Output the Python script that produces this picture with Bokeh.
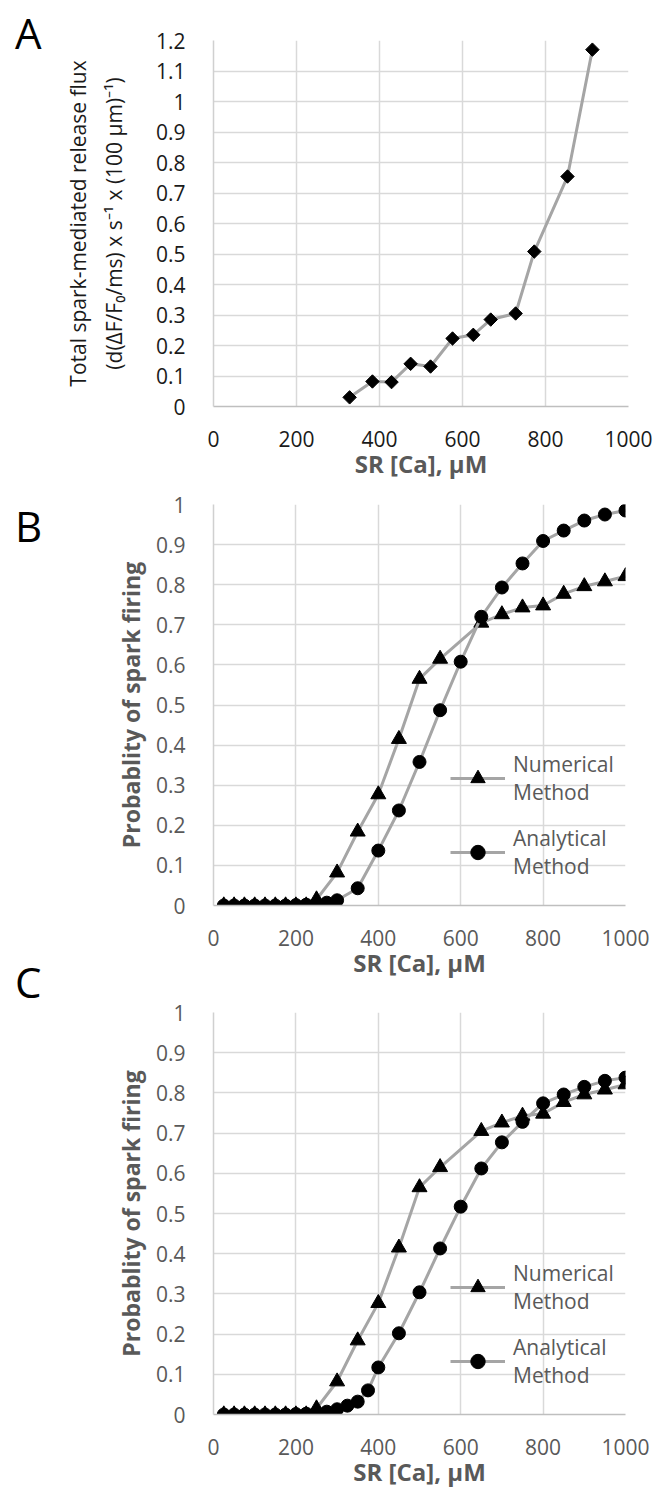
import math
from bokeh.plotting import figure
from bokeh.models import Range1d, FixedTicker, CustomJSTickFormatter, Legend, LegendItem, Div
from bokeh.layouts import column, row
from bokeh.embed import file_html
from bokeh.resources import INLINE

# ---------------- data ----------------
# Panel A: total spark-mediated release flux vs SR [Ca]
a_sr = [328, 383, 429, 475, 523, 576, 626, 668, 728, 773, 853, 913]
a_flux = [0.030, 0.082, 0.080, 0.140, 0.131, 0.223, 0.235, 0.285, 0.305, 0.508, 0.754, 1.170]

# Panels B and C: numerical method (same in both)
num_sr = [25, 50, 75, 100, 125, 150, 175, 200, 225, 250, 300, 350, 400, 450, 500, 550,
          650, 700, 750, 800, 850, 900, 950, 1000]
num_p = [0, 0, 0, 0, 0, 0, 0, 0, 0, 0.015, 0.082, 0.184, 0.277, 0.415, 0.565, 0.615,
         0.705, 0.726, 0.743, 0.748, 0.777, 0.796, 0.808, 0.821]

# Panel B: analytical method
ana_b_sr = [25, 50, 75, 100, 125, 150, 175, 200, 225, 250, 275, 300,
            350, 400, 450, 500, 550, 600, 650, 700, 750, 800, 850, 900, 950, 1000]
ana_b_p = [0, 0, 0, 0, 0, 0, 0, 0.001, 0.002, 0.004, 0.007, 0.013,
           0.043, 0.137, 0.237, 0.358, 0.487, 0.608, 0.720, 0.793, 0.853, 0.909, 0.935, 0.960, 0.975, 0.985]

# Panel C: analytical method
ana_c_sr = [25, 50, 75, 100, 125, 150, 175, 200, 225, 250, 275, 300, 325, 350, 375, 400,
            450, 500, 550, 600, 650, 700, 750, 800, 850, 900, 950, 1000]
ana_c_p = [0, 0, 0, 0, 0, 0, 0, 0.001, 0.002, 0.004, 0.007, 0.013, 0.022, 0.032, 0.060, 0.117,
           0.202, 0.304, 0.413, 0.517, 0.612, 0.677, 0.728, 0.774, 0.796, 0.815, 0.830, 0.838]

x_ticks = [0, 200, 400, 600, 800, 1000]
a_y_ticks = [0, 0.1, 0.2, 0.3, 0.4, 0.5, 0.6, 0.7, 0.8, 0.9, 1.0, 1.1, 1.2]
p_y_ticks = [0, 0.1, 0.2, 0.3, 0.4, 0.5, 0.6, 0.7, 0.8, 0.9, 1.0]

panel_letters = ["A", "B", "C"]
x_title = "SR [Ca], µM"
a_y_title = "Total spark-mediated release flux\n(d(ΔF/F₀/ms) x s⁻¹ x (100 µm)⁻¹)"
p_y_title = "Probablity of spark firing"
num_label = "Numerical\nMethod"
ana_label = "Analytical\nMethod"

FONT = "Open Sans"
GREY_TXT = "#595959"
GRID = "#d9d9d9"
LINE = "#a5a5a5"
LEFT_COL = 45
fmt = CustomJSTickFormatter(code="return Number(tick.toFixed(2)).toString();")


def base_fig(fw, fh, top, bottom, right, ymax, yticks, tick_color):
    p = figure(frame_width=fw, frame_height=fh, min_border_left=213 - LEFT_COL,
               min_border_right=right, min_border_top=top, min_border_bottom=bottom,
               x_range=Range1d(0, 1000), y_range=Range1d(0, ymax),
               output_backend="svg", toolbar_location=None)
    p.outline_line_color = None
    p.background_fill_color = "white"
    p.border_fill_color = "white"
    for ax, ticks in ((p.xaxis, x_ticks), (p.yaxis, yticks)):
        ax.ticker = FixedTicker(ticks=ticks)
        ax.formatter = fmt
        ax.major_tick_line_color = None
        ax.minor_tick_line_color = None
        ax.major_label_text_font = FONT
        ax.major_label_text_font_size = "21px"
        ax.major_label_text_color = tick_color
    p.xaxis.axis_line_color = "#bfbfbf"
    p.xaxis.axis_line_width = 1.5
    p.yaxis.axis_line_color = "#d0d0d0"
    p.yaxis.axis_line_width = 1.5
    p.xaxis.major_label_standoff = 18
    p.yaxis.major_label_standoff = 22
    p.xgrid.ticker = FixedTicker(ticks=x_ticks)
    p.ygrid.ticker = FixedTicker(ticks=yticks)
    p.grid.grid_line_color = GRID
    p.grid.grid_line_width = 1.5
    p.xaxis.axis_label = x_title
    p.xaxis.axis_label_text_font = FONT
    p.xaxis.axis_label_text_font_size = "24px"
    p.xaxis.axis_label_text_font_style = "bold"
    p.xaxis.axis_label_text_color = GREY_TXT
    p.xaxis.axis_label_standoff = -3
    return p


# ---------------- Panel A ----------------
pa = base_fig(415, 366, 40, 84, 25, 1.2, a_y_ticks, "#1a1a1a")
pa.yaxis.axis_label = a_y_title
pa.yaxis.axis_label_text_font = FONT
pa.yaxis.axis_label_text_font_size = "21px"
pa.yaxis.axis_label_text_font_style = "normal"
pa.yaxis.axis_label_text_color = "#1a1a1a"
pa.yaxis.axis_label_text_line_height = 1.3
pa.yaxis.axis_label_standoff = 25
pa.line(a_sr, a_flux, line_color=LINE, line_width=3)
pa.scatter(a_sr, a_flux, marker="square", angle=math.pi / 4, size=9.5,
           fill_color="black", line_color="black")


def prob_panel(fw, fh, top, bottom, right, ana_x, ana_y):
    p = base_fig(fw, fh, top, bottom, right, 1.0, p_y_ticks, GREY_TXT)
    p.yaxis.axis_label = p_y_title
    p.yaxis.axis_label_text_font = FONT
    p.yaxis.axis_label_text_font_size = "23px"
    p.yaxis.axis_label_text_font_style = "bold"
    p.yaxis.axis_label_text_color = GREY_TXT
    p.yaxis.axis_label_standoff = 6
    l1 = p.line(num_sr, num_p, line_color=LINE, line_width=3)
    s1 = p.scatter(num_sr, num_p, marker="triangle", size=15, fill_color="black", line_color="black")
    l2 = p.line(ana_x, ana_y, line_color=LINE, line_width=3)
    s2 = p.scatter(ana_x, ana_y, marker="circle", size=13, fill_color="black", line_color="black")
    leg = Legend(items=[LegendItem(label=num_label, renderers=[l1, s1]),
                        LegendItem(label=ana_label, renderers=[l2, s2])],
                 location=(237, 25), orientation="vertical")
    leg.background_fill_alpha = 0
    leg.border_line_alpha = 0
    leg.padding = 0
    leg.margin = 0
    leg.spacing = 18
    leg.glyph_width = 55
    leg.glyph_height = 36
    leg.label_standoff = 8
    leg.label_text_font = FONT
    leg.label_text_font_size = "21px"
    leg.label_text_color = GREY_TXT
    leg.label_text_line_height = 1.45
    p.add_layout(leg)
    return p


pb = prob_panel(412, 401, 14, 95, 28, ana_b_sr, ana_b_p)
pc = prob_panel(412, 402, 12, 72, 28, ana_c_sr, ana_c_p)

# panel letters in a narrow column on the left
letter_tops = [12, 505, 961]
spans = "".join(
    f'<span style="position:absolute;left:15px;top:{t}px;">{s}</span>'
    for s, t in zip(panel_letters, letter_tops))
letters = Div(text=f'<div style="position:relative;width:{LEFT_COL}px;height:1486px;'
                   f'font-family:\'Open Sans\';font-size:42px;line-height:1;color:black;">{spans}</div>',
              width=LEFT_COL, height=1486, margin=0)

layout = row(letters, column(pa, pb, pc, spacing=0), spacing=0)
open("out.html", "w").write(file_html(layout, INLINE))
